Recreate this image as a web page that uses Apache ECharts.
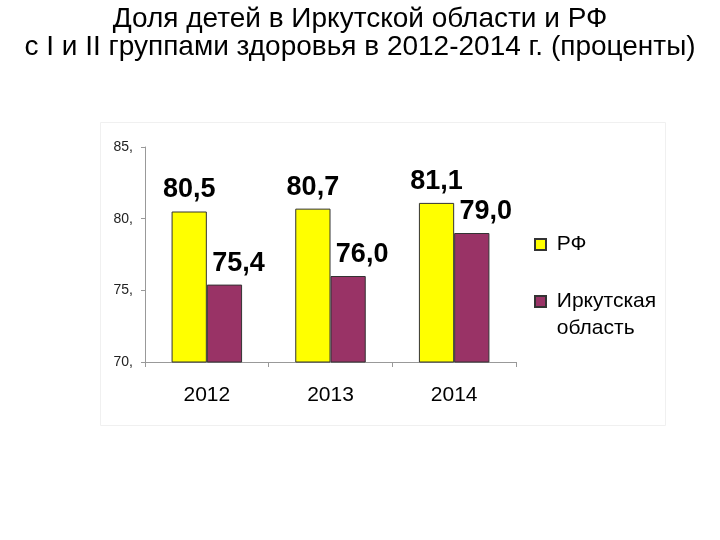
<!DOCTYPE html>
<html><head><meta charset="utf-8">
<script src="https://cdn.jsdelivr.net/npm/echarts@6/dist/echarts.min.js"></script>
<style>html,body{margin:0;padding:0;background:#fff}#c{width:720px;height:540px}</style>
</head><body><div id="c"></div>
<script>
var categories = ['2012', '2013', '2014'];
var rfValues = [80.5, 80.7, 81.1];
var irkValues = [75.4, 76.0, 79.0];
var seriesNames = ['РФ', 'Иркутская\nобласть'];
var yTicks = [70, 75, 80, 85];

var chart = echarts.init(document.getElementById('c'));
var labelFmt = function (p) { return p.value.toFixed(1).replace('.', ','); };
function labelStyle(dx) {
  return {
    show: true, position: 'top', formatter: labelFmt,
    fontFamily: 'Liberation Sans', fontWeight: 'bold', fontSize: 27, color: '#000',
    offset: [dx, -3]
  };
}
chart.setOption({
  animation: false,
  title: {
    text: 'Доля детей в Иркутской области и РФ\nс I и II группами здоровья в 2012-2014 г. (проценты)',
    left: 'center', top: 0,
    textStyle: { fontFamily: 'Liberation Sans', fontWeight: 'normal', fontSize: 28, color: '#000', lineHeight: 28 }
  },
  graphic: [{
    type: 'rect', left: 100, top: 122, z: -1,
    shape: { width: 565, height: 303 },
    style: { fill: '#fff', stroke: '#f0f0f0', lineWidth: 1 }
  }],
  legend: {
    orient: 'vertical', left: 529, top: 226, itemGap: 3,
    itemWidth: 11, itemHeight: 11, icon: 'rect',
    formatter: function (name) {
      return name === seriesNames[1] ? '\n' + name.replace('\n', '\n ').replace(/^/, ' ') : ' ' + name;
    },
    textStyle: { fontFamily: 'Liberation Sans', fontSize: 21, color: '#000', lineHeight: 27 },
    data: seriesNames
  },
  grid: { left: 145, right: 204, top: 147, bottom: 178 },
  xAxis: {
    type: 'category', data: categories,
    axisLine: { lineStyle: { color: '#999' } },
    axisTick: { show: true, length: 5, lineStyle: { color: '#999' } },
    axisLabel: { fontFamily: 'Liberation Sans', fontSize: 21, color: '#000', margin: 23 }
  },
  yAxis: {
    type: 'value', min: 70, max: 85, interval: 5,
    axisLine: { show: true, lineStyle: { color: '#999' } },
    axisTick: { show: true, length: 4, lineStyle: { color: '#999' } },
    splitLine: { show: false },
    axisLabel: {
      fontFamily: 'Liberation Sans', fontSize: 14, color: '#222', margin: 12,
      formatter: function (v) { return yTicks.indexOf(v) >= 0 ? v + ',' : ''; }
    }
  },
  series: [
    {
      name: seriesNames[0], type: 'bar', data: rfValues, barGap: '0%', barCategoryGap: '43%',
      itemStyle: { color: '#FFFF00', borderColor: '#333', borderWidth: 1 },
      label: labelStyle(0)
    },
    {
      name: seriesNames[1], type: 'bar', data: irkValues,
      itemStyle: { color: '#993366', borderColor: '#333', borderWidth: 1 },
      label: labelStyle(14)
    }
  ]
});
</script></body></html>
